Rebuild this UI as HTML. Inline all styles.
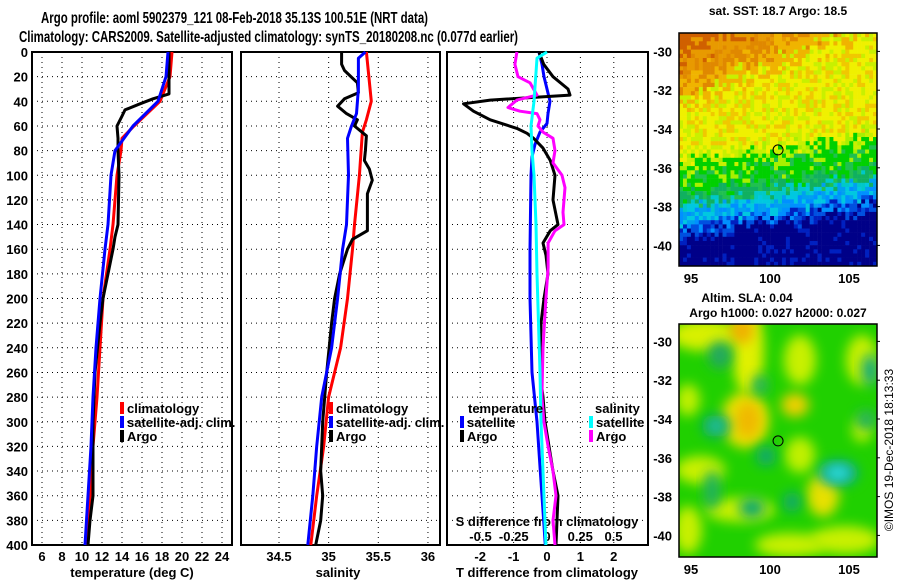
<!DOCTYPE html>
<html><head><meta charset="utf-8"><style>
body{margin:0;background:#fff;}
svg{display:block;font-family:"Liberation Sans",sans-serif;font-weight:bold;}
</style></head><body>
<svg id="c" width="900" height="580" viewBox="0 0 900 580">
<defs>
<filter id="bl" x="-50%" y="-50%" width="200%" height="200%"><feGaussianBlur stdDeviation="6"/></filter>
<clipPath id="m2c"><rect x="679" y="324" width="198" height="233"/></clipPath>
</defs>
<text x="41" y="23" font-size="16" textLength="387" lengthAdjust="spacingAndGlyphs">Argo profile: aoml 5902379_121 08-Feb-2018 35.13S 100.51E (NRT data)</text>
<text x="19" y="42" font-size="16" textLength="499" lengthAdjust="spacingAndGlyphs">Climatology: CARS2009. Satellite-adjusted climatology: synTS_20180208.nc (0.077d earlier)</text>
<g id="g"></g>
</svg>
<script>
// ---- data ----
const tempArgoD=[0,10,20,34,38,42,47,52,60,70,80,100,140,150,160,200,220,260,300,340,360,380,400];
const tempArgo=[18.7,18.7,18.7,18.7,17.1,15.8,14.3,14.0,13.5,13.6,13.6,13.7,13.6,13.3,13.1,12.1,11.8,11.3,11.1,11.1,11.1,10.8,10.6];
const tempClimD=[0,20,40,60,70,80,100,140,160,200,240,280,320,360,400];
const tempClim=[19.0,18.8,17.8,15.2,14.0,13.9,13.5,13.1,12.8,12.1,11.8,11.5,11.1,10.8,10.5];
const tempSatD=[0,20,40,60,80,100,140,160,200,240,280,320,360,400];
const tempSat=[18.6,18.4,17.6,15.1,13.3,12.9,12.6,12.3,11.8,11.4,11.1,10.9,10.6,10.3];
const salArgoD=[0,10,15,25,33,38,44,50,55,60,68,80,88,95,104,115,145,152,160,180,200,220,260,300,340,360,380,400];
const salArgo=[35.13,35.13,35.16,35.29,35.30,35.16,35.09,35.18,35.29,35.26,35.38,35.37,35.36,35.41,35.44,35.39,35.39,35.24,35.19,35.11,35.06,35.03,34.98,34.94,34.92,34.94,34.92,34.87];
const salClimD=[0,40,55,65,100,140,160,200,240,280,320,360,400];
const salClim=[35.38,35.43,35.38,35.34,35.31,35.26,35.24,35.19,35.12,35.0,34.95,34.88,34.82];
const salSatD=[0,5,30,50,60,70,100,140,160,200,240,280,320,360,400];
const salSat=[35.37,35.30,35.30,35.28,35.23,35.19,35.20,35.18,35.14,35.09,35.03,34.93,34.88,34.84,34.79];
const dTArgoD=[0,10,20,30,35,39,42,48,55,62,66,70,78,88,100,120,140,145,155,165,180,200,220,260,280,300,340,360,380,400];
const dTArgo=[-0.24,-0.1,0.18,0.63,0.69,-1.7,-2.5,-2.2,-1.7,-0.9,-0.6,-0.4,-0.12,0.1,0.24,0.18,0.33,0.1,-0.12,-0.03,0.03,-0.09,-0.18,-0.21,-0.12,-0.06,0.18,0.33,0.3,0.27];
const dTSatD=[0,10,20,30,40,50,58,65,75,85,100,160,200,260,300,340,400];
const dTSat=[-0.24,-0.15,-0.09,0.0,0.09,0.03,0.0,-0.21,-0.36,-0.45,-0.48,-0.51,-0.51,-0.45,-0.3,-0.2,-0.05];
const dSSatD=[0,5,40,60,80,100,140,180,260,300,340,400];
const dSSat=[0.0,-0.075,-0.098,-0.12,-0.113,-0.098,-0.083,-0.075,-0.053,-0.045,-0.03,-0.008];
const dSArgoD=[0,10,20,25,35,39,45,48,50,55,60,65,70,80,90,100,110,130,140,145,155,175,200,240,280,300,320,340,360,380,400];
const dSArgo=[-0.226,-0.241,-0.218,-0.128,-0.075,-0.226,-0.293,-0.203,-0.075,-0.053,-0.068,-0.03,0.045,0.06,0.045,0.113,0.135,0.12,0.128,0.06,0.008,0.008,-0.008,-0.03,-0.038,-0.023,0.008,0.045,0.068,0.045,0.06];
const tTicks=[6,8,10,12,14,16,18,20,22,24];
const sTicks=[34.5,35,35.5,36];
const dtTicks=[-2,-1,0,1,2];
const dsTicks=[-0.5,-0.25,0,0.25,0.5];
const dsTickLabels=["-0.5","-0.25","0","0.25","0.5"];
const depthTicks=[0,20,40,60,80,100,120,140,160,180,200,220,240,260,280,300,320,340,360,380,400];
const latTicks=[-30,-32,-34,-36,-38,-40];
const lonTicks=[95,100,105];

// ---- scales ----
const Y0=52,Y1=545;
const yD=d=>Y0+d*(Y1-Y0)/400;
const xT=t=>42+(t-6)*10;
const xS=s=>279+(s-34.5)*99.3;
const xdT=t=>547+t*33.4;
const xdS=s=>547+s*133;

const NS="http://www.w3.org/2000/svg";
const G=document.getElementById('g');
function mk(tag,at,parent){const e=document.createElementNS(NS,tag);for(const k in at)e.setAttribute(k,at[k]);(parent||G).appendChild(e);return e;}

function panel(x0,x1,gx,name){
  const fr=mk('rect',{x:x0,y:Y0,width:x1-x0,height:Y1-Y0,fill:'none',stroke:'#000','stroke-width':2});
  
  
  depthTicks.forEach(d=>{if(d>0&&d<400){const l=mk('line',{x1:x0,x2:x1,y1:yD(d),y2:yD(d),stroke:'#000','stroke-dasharray':'1,4'});
  
  }});
  gx.forEach(x=>{const l=mk('line',{x1:x,x2:x,y1:Y0,y2:Y1,stroke:'#000','stroke-dasharray':'1,4'});
  
  });
}
panel(32,232,tTicks.map(xT),'temperature-panel');
panel(241,440,sTicks.map(xS),'salinity-panel');
panel(447,648,dtTicks.map(xdT),'difference-panel');

depthTicks.forEach(d=>{const t=mk('text',{x:28,y:yD(d)+5,'font-size':13,'text-anchor':'end'});t.textContent=d;

});
tTicks.forEach(v=>{const t=mk('text',{x:xT(v),y:561,'font-size':13,'text-anchor':'middle'});t.textContent=v;

});
sTicks.forEach(v=>{const t=mk('text',{x:xS(v),y:561,'font-size':13,'text-anchor':'middle'});t.textContent=v;

});
dtTicks.forEach(v=>{const t=mk('text',{x:xdT(v),y:561,'font-size':13,'text-anchor':'middle'});t.textContent=v;

});
dsTicks.forEach((v,i)=>{const t=mk('text',{x:xdS(v),y:541,'font-size':13,'text-anchor':'middle'});t.textContent=dsTickLabels[i];

});
[[132,'temperature (deg C)','temperature-axis-title'],[338,'salinity','salinity-axis-title'],[547,'T difference from climatology','t-diff-axis-title']].forEach(a=>{
 const t=mk('text',{x:a[0],y:577,'font-size':13,'text-anchor':'middle'});t.textContent=a[1];
 
 });
{const t=mk('text',{x:547,y:526,'font-size':13,'text-anchor':'middle'});t.textContent='S difference from climatology';

}

function line(ds,vs,fx,col,name){
  const p=mk('polyline',{points:ds.map((d,i)=>fx(vs[i]).toFixed(1)+','+yD(d).toFixed(1)).join(' '),fill:'none',stroke:col,'stroke-width':3,'stroke-linejoin':'round'});
  
  
}
line(tempClimD,tempClim,xT,'#f00','temp-climatology-line');
line(tempArgoD,tempArgo,xT,'#000','temp-argo-line');
line(tempSatD,tempSat,xT,'#00f','temp-satellite-line');
line(salClimD,salClim,xS,'#f00','sal-climatology-line');
line(salArgoD,salArgo,xS,'#000','sal-argo-line');
line(salSatD,salSat,xS,'#00f','sal-satellite-line');
line(dTSatD,dTSat,xdT,'#00f','t-diff-satellite-line');
line(dTArgoD,dTArgo,xdT,'#000','t-diff-argo-line');
line(dSArgoD,dSArgo,xdS,'#f0f','s-diff-argo-line');
line(dSSatD,dSSat,xdS,'#0ff','s-diff-satellite-line');

function legend(x,y,col,label,name){
  const r=mk('rect',{x:x,y:y-11,width:4,height:12,fill:col});
  
  
  const t=mk('text',{x:x+7,y:y,'font-size':13});t.textContent=label;
  
  
}
legend(120,413,'#f00','climatology','legend-climatology');
legend(120,427,'#00f','satellite-adj. clim.','legend-satellite-adj');
legend(120,441,'#000','Argo','legend-argo');
legend(329,413,'#f00','climatology','legend2-climatology');
legend(329,427,'#00f','satellite-adj. clim.','legend2-satellite-adj');
legend(329,441,'#000','Argo','legend2-argo');
{const t=mk('text',{x:468,y:413,'font-size':13});t.textContent='temperature';

}
legend(460,427,'#00f','satellite','legend-t-satellite');
legend(460,441,'#000','Argo','legend-t-argo');
{const t=mk('text',{x:595,y:413,'font-size':13});t.textContent='salinity';

}
legend(589,427,'#0ff','satellite','legend-s-satellite');
legend(589,441,'#f0f','Argo','legend-s-argo');

// ---- maps ----
const MX0=679,MX1=877;
const lonX=l=>691+(l-95)*15.8;
function hash(i,j){let h=(i*374761393+j*668265263)>>>0;h=((h^(h>>>13))*1274126177)>>>0;return (h%1000)/1000;}
const m1=mk('g',{});


const cw=3.96,ch=4.16,nc=50,nr=56;
for(let r=0;r<nr;r++)for(let c=0;c<nc;c++){
  const fx=c/nc,fy=r/nr,n=hash(r,c)-0.5;
  const v=fy-0.12*(1-fx)+n*0.1;
  const o=0.3-fy-0.35*fx+n*0.14;
  let col;
  if(o>0.2) col='#d06000';
  else if(o>0.08) col=n>0?'#e08800':'#e89a00';
  else if(o>0.0) col='#f0b400';
  else if(v<0.43) col=n>0.25?'#f0c800':(n>-0.25?'#f0f000':'#c8f000');
  else if(v<0.58) col=n>0.3?'#a8f000':(n>-0.25?'#00d000':'#20c050');
  else if(v<0.65) col=n>0.1?'#10b060':(n>-0.2?'#00c8c8':'#00a0f0');
  else if(v<0.73) col=n>0.2?'#00c8e0':(n>-0.2?'#0090ff':'#0050e0');
  else col=n>0.3?'#0020c0':'#000088';
  mk('rect',{x:(MX0+c*cw).toFixed(1),y:(33+r*ch).toFixed(1),width:cw+0.3,height:ch+0.3,fill:col},m1);
}
{const f=mk('rect',{x:679,y:33,width:198,height:233,fill:'none',stroke:'#000','stroke-width':1.5});

}
const m2=mk('g',{'clip-path':'url(#m2c)'});


mk('rect',{x:679,y:324,width:198,height:233,fill:'#20d000'},m2);
const blobs=[[705,335,35,16,'#d8f000'],[748,350,16,45,'#e0f000'],[745,420,24,28,'#e8e000'],[742,330,12,14,'#f0b000'],[748,420,12,18,'#f0b800'],
[800,360,16,25,'#c8f000'],[795,405,14,12,'#f0d000'],[862,360,16,25,'#c8f000'],[700,470,25,14,'#c8f000'],[740,510,35,12,'#c8f000'],
[823,495,16,22,'#e8e000'],[845,540,35,14,'#c8f000'],[688,530,14,24,'#c8f000'],[790,545,35,12,'#c8f000'],[800,455,15,18,'#c0f000'],[688,400,12,16,'#c0f000'],[862,430,10,12,'#c0f000']];
blobs.forEach(b=>mk('ellipse',{cx:b[0],cy:b[1],rx:b[2],ry:b[3],fill:b[4],filter:'url(#bl)'},m2));
const dk=[[716,426,14,12,'#10a870'],[716,426,7,5,'#30d0b0'],[766,456,10,10,'#10a870'],[752,508,13,10,'#10a870'],[792,502,9,10,'#10a870'],
[838,473,20,13,'#10a890'],[838,473,12,7,'#30e0e0'],[720,355,12,14,'#20a860'],[870,370,8,16,'#10a880'],[712,490,8,20,'#20b060'],[866,420,10,10,'#20b060'],[760,385,8,10,'#20b060']];
dk.forEach(b=>mk('ellipse',{cx:b[0],cy:b[1],rx:b[2],ry:b[3],fill:b[4],filter:'url(#bl)'},m2));
{const f=mk('rect',{x:679,y:324,width:198,height:233,fill:'none',stroke:'#000','stroke-width':1.5});

}
// float markers
[[lonX(100.51),33+(35.13-29)*19.4-2],[lonX(100.51),324+(35.13-29)*19.4-2]].forEach(p=>{
 const c=mk('circle',{cx:p[0],cy:p[1],r:5,fill:'none',stroke:'#000','stroke-width':1});
 
 });
// map ticks
[[33,'sst'],[324,'sla']].forEach(m=>{
  const top=m[0];
  latTicks.forEach(l=>{const y=top+(-29-l)*19.4+ (m[1]=='sst'?-1:-2);
    const t=mk('text',{x:672,y:y+5,'font-size':13,'text-anchor':'end'});t.textContent=l;
    
    
    mk('line',{x1:MX1,x2:MX1+3,y1:y,y2:y,stroke:'#000'});});
  lonTicks.forEach(l=>{const t=mk('text',{x:lonX(l),y:top+250,'font-size':13,'text-anchor':'middle'});t.textContent=l;
    
    });
});
[[778,15,'sat. SST: 18.7 Argo: 18.5','sst-map-title'],[747,302,'Altim. SLA: 0.04','sla-map-title'],[778,317,'Argo h1000: 0.027 h2000: 0.027','sla-map-subtitle']].forEach(a=>{
 const t=mk('text',{x:a[0],y:a[1],'font-size':12,'text-anchor':'middle'});t.textContent=a[2];
 
 });
{const t=mk('text',{x:0,y:0,'font-size':12,'font-weight':'normal','text-anchor':'middle',transform:'translate(893,450) rotate(-90)'});t.textContent='©IMOS 19-Dec-2018 18:13:33';

}
</script>
</body></html>
